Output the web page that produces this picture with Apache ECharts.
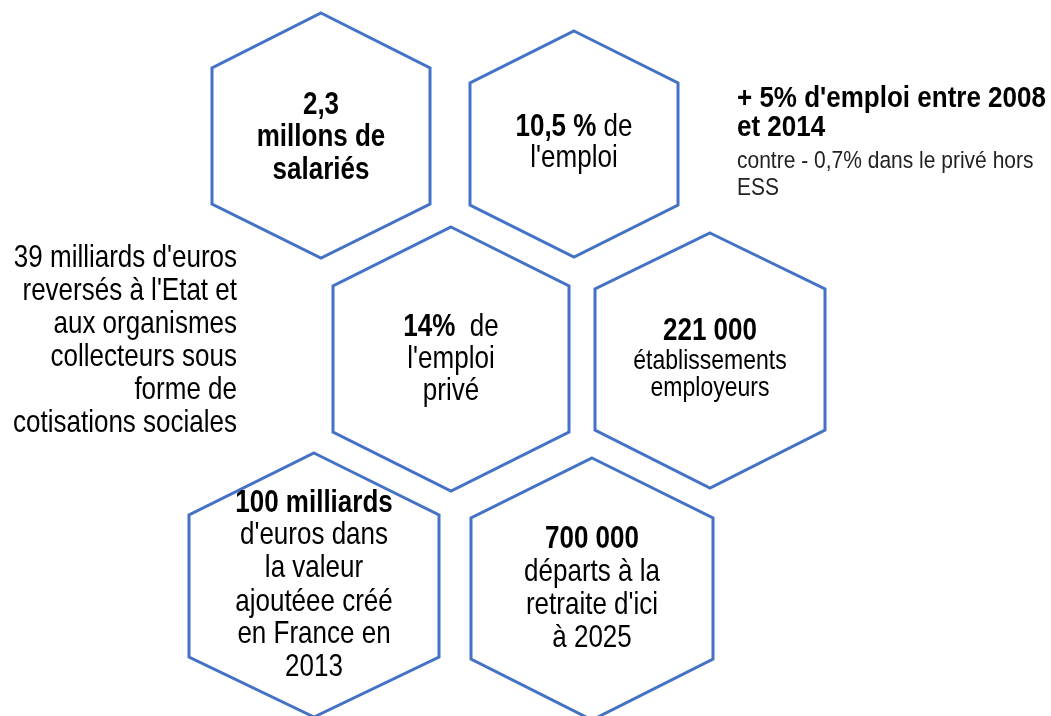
<!DOCTYPE html>
<html>
<head>
<meta charset="utf-8">
<script src="https://cdn.jsdelivr.net/npm/echarts@6/dist/echarts.min.js"></script>
<style>
html,body{margin:0;padding:0;background:#fff;}
#chart{width:1051px;height:716px;}
</style>
</head>
<body>
<div id="chart"></div>
<script>
// ---- Data (text content) ----
const hexTexts = [
  ['{b|2,3}', '{b|millons de}', '{b|salariés}'],
  ['{b|10,5 %}{n| de}', "{n|l'emploi}"],
  ['{b|14%}{n|  de}', "{n|l'emploi}", '{n|privé}'],
  ['{b|221 000}', '{s|établissements}', '{s|employeurs}'],
  ['{b|100 milliards}', "{n|d'euros dans}", '{n|la valeur}', '{n|ajoutéee créé}', '{n|en France en}', '{n|2013}'],
  ['{b|700 000}', '{n|départs à la}', "{n|retraite d'ici}", '{n|à 2025}']
];
const leftNote = ["39 milliards d'euros", "reversés à l'Etat et", 'aux organismes', 'collecteurs sous', 'forme de', 'cotisations sociales'];
const rightTitle = ["+ 5% d'emploi entre 2008", 'et 2014'];
const rightNote = ['contre - 0,7% dans le privé hors', 'ESS'];

// ---- Layout (hexagon geometry, pixel space of the hidden axes) ----
const hexCenterX    = [321, 574, 451, 710, 314, 592];
const hexTop        = [13, 31, 227, 233, 453, 458];
const hexSideTop    = [68, 83, 286, 289, 515, 518];
const hexSideBottom = [204, 205, 432, 430, 657, 659];
const hexBottom     = [258, 257, 491, 488, 717, 720];
const hexHalfWidth  = [109, 104, 118, 115, 125, 121];
const hexBaselines  = [
  [115, 147, 180],
  [137, 168],
  [337, 369, 401],
  [341, 370, 397],
  [513, 545, 578, 612, 644, 677],
  [549, 582, 615, 648]
];
const leftX = 237, leftBaselines = [268, 301, 334, 367, 400, 433];
const rightX = 737, rightTitleBaselines = [108, 137], rightNoteBaselines = [169, 196];

const FONT = "'Liberation Sans', Arial, Helvetica, sans-serif";
const BLUE = '#4472C4';
const STRETCH = 1.18;      // glyphs in the reference are condensed / taller
const STRETCH_SIDE = 1.1;
const rich = {
  b: {fontFamily: FONT, fontSize: 26, fontWeight: 'bold', fill: '#000', lineHeight: 30},
  n: {fontFamily: FONT, fontSize: 26, fontWeight: 'normal', fill: '#000', lineHeight: 30},
  s: {fontFamily: FONT, fontSize: 23, fontWeight: 'normal', fill: '#000', lineHeight: 26}
};
function midY(baseline, size, sy) { return baseline - 0.31 * size * sy; }

const chart = echarts.init(document.getElementById('chart'), null, {renderer: 'canvas'});

const option = {
  animation: false,
  backgroundColor: '#ffffff',
  grid: {left: 0, right: 0, top: 0, bottom: 0},
  xAxis: {type: 'value', min: 0, max: 1051, show: false},
  yAxis: {type: 'value', min: 0, max: 716, inverse: true, show: false},
  series: [
    {
      type: 'custom',
      coordinateSystem: 'cartesian2d',
      clip: false,
      data: hexCenterX.map((x, i) => [x, (hexTop[i] + hexBottom[i]) / 2]),
      renderItem: function (params, api) {
        const i = params.dataIndex;
        const cx = hexCenterX[i], hw = hexHalfWidth[i];
        const pts = [
          [cx, hexTop[i]], [cx + hw, hexSideTop[i]], [cx + hw, hexSideBottom[i]],
          [cx, hexBottom[i]], [cx - hw, hexSideBottom[i]], [cx - hw, hexSideTop[i]]
        ].map(p => api.coord(p));
        const children = [{
          type: 'polygon',
          shape: {points: pts},
          style: {fill: '#fff', stroke: BLUE, lineWidth: 3, lineJoin: 'miter'}
        }];
        hexTexts[i].forEach((line, j) => {
          const size = line.indexOf('{s|') === 0 ? 23 : 26;
          const p = api.coord([cx, midY(hexBaselines[i][j], size, STRETCH)]);
          children.push({
            type: 'text',
            x: p[0], y: p[1], scaleY: STRETCH,
            style: {text: line, rich: rich, align: 'center', verticalAlign: 'middle',
                    fontFamily: FONT, fontSize: size, fill: '#000'}
          });
        });
        return {type: 'group', children: children};
      }
    },
    {
      type: 'custom',
      coordinateSystem: 'cartesian2d',
      clip: false,
      data: [[0, 0]],
      renderItem: function (params, api) {
        const children = [];
        leftNote.forEach((t, j) => {
          const p = api.coord([leftX, midY(leftBaselines[j], 26, STRETCH)]);
          children.push({type: 'text', x: p[0], y: p[1], scaleY: STRETCH,
            style: {text: t, align: 'right', verticalAlign: 'middle', fontFamily: FONT, fontSize: 26, fill: '#000'}});
        });
        rightTitle.forEach((t, j) => {
          const p = api.coord([rightX, midY(rightTitleBaselines[j], 26, STRETCH_SIDE)]);
          children.push({type: 'text', x: p[0], y: p[1], scaleY: STRETCH_SIDE,
            style: {text: t, align: 'left', verticalAlign: 'middle', fontFamily: FONT, fontSize: 26, fontWeight: 'bold', fill: '#000'}});
        });
        rightNote.forEach((t, j) => {
          const p = api.coord([rightX, midY(rightNoteBaselines[j], 21, STRETCH_SIDE)]);
          children.push({type: 'text', x: p[0], y: p[1], scaleY: STRETCH_SIDE,
            style: {text: t, align: 'left', verticalAlign: 'middle', fontFamily: FONT, fontSize: 21, fill: '#222'}});
        });
        return {type: 'group', children: children};
      }
    }
  ]
};
chart.setOption(option);
</script>
</body>
</html>
